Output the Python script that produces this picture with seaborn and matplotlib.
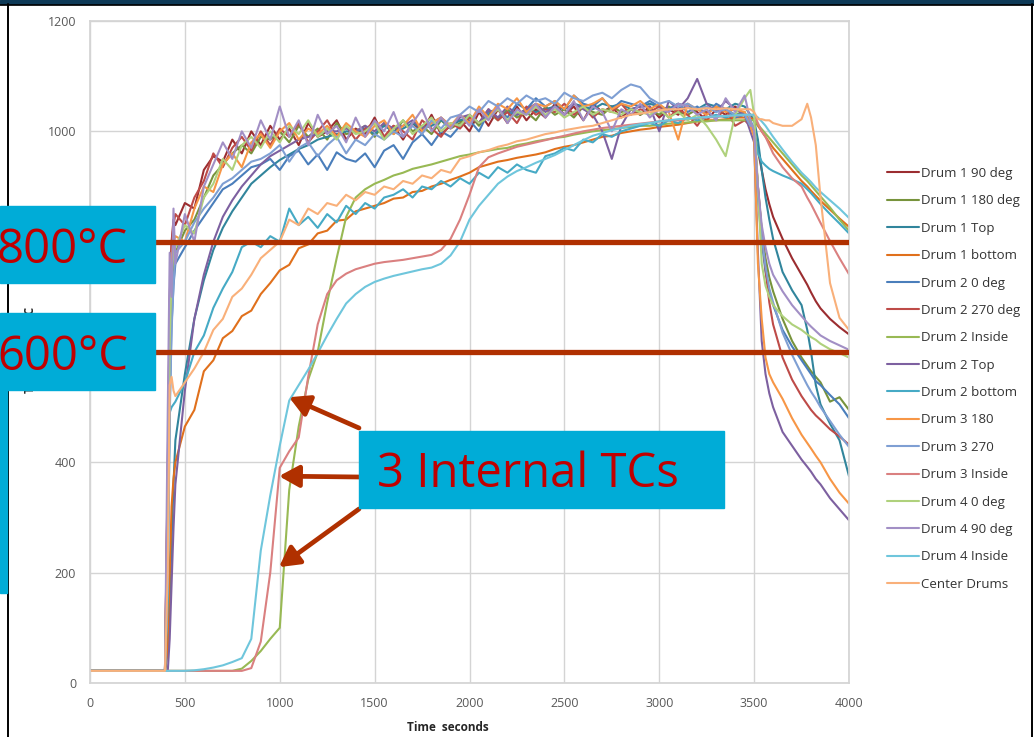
import numpy as np
import pandas as pd
import matplotlib
matplotlib.use("Agg")
import matplotlib.pyplot as plt
from matplotlib.patches import Rectangle
import seaborn as sns

# ── time base: start of test, heating phase (every 50 s), cooling phase ──
START_T = [0, 395, 410, 420, 430, 440]
HEAT_T = list(range(450, 3451, 50))
COOL_T = [3480, 3500, 3520, 3540, 3560, 3580, 3600, 3650, 3700, 3750,
          3780, 3800, 3825, 3850, 3900, 3950, 4000]
TIME = START_T + HEAT_T + COOL_T

NAMES = ["Drum 1 90 deg", "Drum 1 180 deg", "Drum 1 Top", "Drum 1 bottom",
         "Drum 2 0 deg", "Drum 2 270 deg", "Drum 2 Inside", "Drum 2 Top",
         "Drum 2 bottom", "Drum 3 180", "Drum 3 270", "Drum 3 Inside",
         "Drum 4 0 deg", "Drum 4 90 deg", "Drum 4 Inside", "Center Drums"]
COLORS = ["#9b2d30", "#77933c", "#31859c", "#e0701c",
          "#4a7ebb", "#be4b48", "#98b954", "#7d60a0",
          "#46aac5", "#f79646", "#7f9fd3", "#da8080",
          "#afd17c", "#a28fc5", "#6fc6dc", "#f9b07a"]

# ── temperatures (deg C), one list per thermocouple ──
D1_90 = [22, 22, 400, 700, 800, 840,
         830, 870, 860, 930, 955, 945, 985, 960, 1000, 975,
         1010, 985, 1005, 975, 1015, 990, 1000, 1020, 985, 1005,
         995, 1025, 990, 1010, 985, 1015, 1000, 1030, 995, 1010,
         1020, 1000, 1035, 1010, 1040, 1015, 1045, 1020, 1040, 1025,
         1050, 1030, 1045, 1020, 1050, 1035, 1045, 1025, 1040, 1030,
         1045, 1025, 1040, 1030, 1050, 1035, 1020, 1040, 1030, 1045,
         1030,
         1010, 1000, 965, 930, 895, 868, 845, 805, 770, 740, 722, 708, 692, 679, 660, 645, 632]
D1_180 = [22, 22, 350, 600, 720, 760,
          780, 820, 840, 880, 920, 940, 960, 975, 960, 990,
          985, 1000, 980, 1010, 990, 1005, 985, 1015, 995, 1000,
          1010, 990, 1015, 995, 1020, 1000, 1010, 995, 1020, 1005,
          1015, 1030, 1010, 1035, 1020, 1040, 1025, 1035, 1020, 1045,
          1030, 1040, 1025, 1045, 1035, 1030, 1045, 1035, 1040, 1030,
          1040, 1030, 1045, 1035, 1030, 1040, 1035, 1025, 1040, 1030,
          1035,
          1010, 1000, 900, 820, 770, 735, 710, 660, 620, 590, 575, 565, 555, 545, 510, 518, 495]
D1_TOP = [22, 22, 60, 150, 260, 360,
          440, 560, 660, 730, 785, 825, 855, 880, 905, 920,
          935, 948, 958, 968, 975, 985, 990, 995, 1000, 1000,
          1005, 995, 1010, 1000, 1005, 1015, 1005, 1010, 1020, 1010,
          1020, 1025, 1015, 1030, 1025, 1035, 1030, 1040, 1035, 1040,
          1045, 1040, 1050, 1045, 1040, 1050, 1045, 1050, 1040, 1045,
          1050, 1045, 1040, 1050, 1045, 1040, 1050, 1045, 1040, 1050,
          1045,
          1030, 1020, 985, 930, 880, 840, 805, 745, 712, 685, 640, 600, 540, 505, 470, 440, 375]
D1_BOT = [22, 22, 60, 200, 320, 370,
          400, 465, 495, 565, 585, 625, 638, 665, 675, 705,
          725, 748, 758, 788, 795, 815, 820, 838, 840, 855,
          860, 865, 870, 878, 880, 890, 892, 900, 905, 912,
          918, 925, 935, 940, 945, 948, 952, 955, 958, 962,
          968, 972, 975, 980, 985, 990, 992, 997, 1000, 1003,
          1005, 1008, 1010, 1012, 1015, 1018, 1020, 1020, 1022, 1025,
          1025,
          1025, 1020, 1010, 1000, 990, 980, 970, 950, 930, 910, 900, 892, 883, 874, 858, 842, 827]
D2_0 = [22, 22, 250, 500, 650, 720,
        760, 790, 820, 845, 870, 895, 905, 920, 935, 940,
        950, 930, 955, 965, 940, 958, 930, 962, 950, 945,
        960, 935, 965, 975, 950, 980, 995, 975, 1000, 990,
        1010, 1020, 1000, 1035, 1040, 1025, 1050, 1040, 1060, 1045,
        1055, 1040, 1065, 1050, 1045, 1060, 1040, 1055, 1050, 1045,
        1055, 1045, 1040, 1050, 1035, 1045, 1030, 1050, 1040, 1025,
        1030,
        1010, 1000, 880, 800, 745, 710, 685, 640, 610, 585, 570, 560, 547, 540, 522, 505, 480]
D2_270 = [22, 22, 380, 680, 790, 830,
          850, 830, 880, 910, 960, 935, 970, 990, 965, 1000,
          975, 1005, 990, 1015, 980, 1000, 1020, 990, 1010, 985,
          1005, 1015, 990, 1010, 1000, 985, 1020, 1005, 990, 1015,
          1005, 1025, 1015, 1040, 1020, 1035, 1015, 1045, 1030, 1040,
          1035, 1050, 1030, 1045, 1025, 1040, 1035, 1050, 1030, 1040,
          1035, 1045, 1025, 1040, 1030, 1010, 1035, 1025, 1040, 1010,
          1020,
          1010, 1000, 900, 820, 750, 690, 650, 590, 550, 520, 505, 495, 485, 477, 460, 447, 432]
D2_IN = [22, 22, 22, 22, 22, 22,
         22, 22, 22, 22, 22, 22, 22, 26, 40, 58,
         80, 100, 350, 465, 550, 600, 690, 770, 845, 880,
         895, 905, 912, 920, 925, 932, 936, 940, 945, 950,
         955, 958, 962, 965, 968, 970, 975, 978, 982, 985,
         988, 990, 994, 997, 1000, 1002, 1004, 1006, 1008, 1010,
         1010, 1012, 1014, 1015, 1016, 1018, 1018, 1020, 1020, 1020,
         1020,
         1020, 1020, 1012, 1004, 996, 988, 980, 960, 940, 920, 910, 902, 892, 882, 862, 840, 820]
D2_TOP = [22, 22, 22, 80, 180, 280,
          360, 530, 660, 740, 800, 845, 875, 900, 920, 940,
          955, 965, 975, 985, 990, 995, 1000, 1000, 1005, 1000,
          1010, 1000, 1015, 1005, 1010, 1020, 1005, 1015, 1025, 1010,
          1025, 1030, 1015, 1040, 1025, 1045, 1030, 1040, 1050, 1035,
          1045, 1030, 1050, 1040, 1030, 1000, 950, 1010, 1040, 1045,
          1045, 1000, 1055, 1040, 1060, 1095, 1050, 1035, 1055, 1040,
          1030,
          1000, 980, 780, 620, 560, 525, 500, 455, 430, 405, 392, 383, 370, 360, 335, 315, 295]
D2_BOT = [22, 22, 150, 490, 500, 505,
          510, 545, 600, 630, 680, 715, 745, 790, 800, 790,
          810, 800, 860, 830, 845, 825, 850, 835, 865, 850,
          870, 860, 880, 885, 895, 880, 900, 895, 910, 900,
          915, 905, 925, 915, 935, 925, 940, 930, 925, 955,
          960, 970, 965, 985, 980, 995, 990, 1000, 1005, 1010,
          1015, 1010, 1020, 1015, 1025, 1020, 1025, 1030, 1025, 1030,
          1030,
          1020, 1005, 960, 945, 938, 932, 928, 920, 913, 905, 895, 888, 878, 868, 850, 833, 815]
D3_180 = [22, 22, 380, 650, 770, 800,
          810, 800, 860, 900, 890, 940, 960, 935, 980, 995,
          970, 1000, 1015, 985, 1005, 995, 1010, 990, 1015, 1000,
          990, 1010, 1020, 995, 1010, 1030, 1000, 1015, 1025, 1010,
          1030, 1015, 1045, 1025, 1050, 1040, 1060, 1035, 1050, 1045,
          1055, 1040, 1065, 1045, 1050, 1060, 1040, 1050, 1045, 1055,
          1040, 1050, 1035, 985, 1050, 1040, 1030, 1045, 1035, 1040,
          1035,
          1010, 990, 760, 660, 590, 560, 545, 515, 480, 450, 435, 425, 412, 400, 370, 345, 325]
D3_270 = [22, 22, 200, 480, 640, 720,
          780, 800, 835, 860, 880, 905, 915, 930, 945, 950,
          960, 975, 945, 970, 980, 955, 975, 990, 960, 985,
          975, 995, 985, 1000, 990, 1010, 995, 1020, 1005, 1025,
          1030, 1045, 1035, 1055, 1045, 1060, 1050, 1065, 1055, 1060,
          1050, 1070, 1060, 1055, 1065, 1070, 1060, 1075, 1085, 1080,
          1060, 1050, 1055, 1045, 1050, 1040, 1045, 1035, 1040, 1030,
          1030,
          1010, 1010, 890, 810, 755, 715, 690, 635, 595, 560, 540, 528, 515, 500, 475, 450, 428]
D3_IN = [22, 22, 22, 22, 22, 22,
         22, 22, 22, 22, 22, 22, 22, 22, 27, 75,
         200, 390, 420, 445, 555, 650, 705, 730, 742, 750,
         755, 760, 763, 765, 767, 770, 773, 776, 785, 805,
         840, 885, 935, 953, 960, 966, 972, 976, 980, 984,
         988, 992, 996, 1000, 1003, 1006, 1008, 1010, 1012, 1014,
         1016, 1018, 1020, 1020, 1022, 1024, 1025, 1026, 1028, 1028,
         1030,
         1030, 1030, 1015, 1000, 990, 975, 960, 935, 915, 900, 880, 868, 851, 834, 801, 770, 741]
D4_0 = [22, 22, 300, 620, 740, 780,
        790, 830, 815, 880, 905, 950, 930, 975, 990, 970,
        1000, 980, 1010, 995, 1020, 990, 1005, 985, 1010, 995,
        1000, 1015, 985, 1005, 1020, 995, 1010, 1025, 1000, 1015,
        1010, 1030, 1015, 1025, 1040, 1020, 1035, 1030, 1045, 1030,
        1040, 1025, 1035, 1045, 1030, 1040, 1035, 1030, 1040, 1035,
        1030, 1040, 1025, 1035, 1020, 1030, 1010, 985, 955, 1030,
        1060,
        1075, 1030, 900, 760, 720, 700, 685, 665, 650, 640, 632, 627, 622, 615, 605, 598, 590]
D4_90 = [22, 22, 500, 780, 700, 860,
         760, 850, 800, 900, 940, 980, 950, 1000, 970, 1020,
         985, 1045, 990, 1020, 975, 1030, 995, 1010, 980, 1025,
         990, 1020, 1000, 1035, 990, 1015, 1040, 1000, 1025, 1005,
         1030, 1010, 1040, 1020, 1045, 1015, 1040, 1030, 1050, 1025,
         1045, 1030, 1055, 1020, 1045, 1035, 1000, 1040, 1030, 1050,
         1025, 1040, 1035, 1050, 1045, 1030, 1040, 1020, 1060, 1035,
         1065,
         1020, 1000, 900, 830, 790, 760, 740, 710, 685, 665, 653, 646, 638, 630, 620, 612, 604]
D4_IN = [22, 22, 22, 22, 22, 22,
         22, 22, 23, 25, 28, 32, 38, 45, 80, 240,
         340, 430, 512, 540, 568, 598, 630, 660, 688, 705,
         718, 727, 733, 738, 742, 746, 750, 753, 760, 775,
         800, 840, 865, 885, 905, 918, 928, 935, 943, 950,
         957, 966, 975, 984, 992, 997, 1002, 1006, 1010, 1013,
         1015, 1018, 1020, 1022, 1023, 1025, 1026, 1027, 1028, 1029,
         1030,
         1030, 1030, 1025, 1018, 1010, 1000, 990, 967, 945, 925, 915, 908, 898, 890, 875, 860, 843]
CENTER = [22, 22, 200, 540, 555, 530,
          520, 545, 570, 600, 640, 660, 700, 715, 740, 770,
          785, 800, 840, 830, 860, 850, 870, 865, 885, 875,
          890, 885, 900, 895, 910, 905, 920, 915, 930, 925,
          950, 955, 962, 966, 972, 976, 982, 985, 990, 995,
          998, 1002, 1005, 1008, 1010, 1015, 1020, 1025, 1030, 1032,
          1035, 1038, 1040, 1040, 1042, 1040, 1042, 1040, 1042, 1040,
          1040,
          1040, 1035, 1022, 1022, 1020, 1020, 1015, 1010, 1010, 1022, 1050, 1025, 975, 880, 725, 662, 640]

SERIES = [D1_90, D1_180, D1_TOP, D1_BOT, D2_0, D2_270, D2_IN, D2_TOP,
          D2_BOT, D3_180, D3_270, D3_IN, D4_0, D4_90, D4_IN, CENTER]

# annotation targets (data coords) for the 3 internal TC arrows
ARROW_TIPS = [(1049, 518), (996, 375), (996, 210)]

BOX_BLUE = "#00acd7"
TXT_RED = "#c00000"
RUST = "#b03000"

frames = []
for name, vals in zip(NAMES, SERIES):
    assert len(vals) == len(TIME), (name, len(vals))
    frames.append(pd.DataFrame({"time": TIME, "temp": vals, "series": name}))
df = pd.concat(frames, ignore_index=True)

sns.set_theme(style="whitegrid")
plt.rcParams["font.family"] = ["Open Sans", "DejaVu Sans"]

W, H = 1034, 737
fig = plt.figure(figsize=(W / 100, H / 100), dpi=100)
ax = fig.add_axes([90 / W, (H - 683) / H, 759 / W, 662 / H])

sns.lineplot(data=df, x="time", y="temp", hue="series", hue_order=NAMES,
             palette=COLORS, estimator=None, sort=False, linewidth=1.5, ax=ax)

ax.set_xlim(0, 4000)
ax.set_ylim(0, 1200)
ax.set_xticks(range(0, 4001, 500))
ax.set_yticks(range(0, 1201, 200))
ax.grid(True, color="#d4d4d4", linewidth=1.0)
for s in ax.spines.values():
    s.set_color("#d4d4d4")
ax.tick_params(length=4, color="#c8c8c8", labelcolor="#595959",
               labelsize=9, pad=6)
ax.set_xlabel("Time  seconds", fontsize=8.5, fontweight="bold", color="#262626")
ax.xaxis.set_label_coords((448 - 90) / 759, -0.057)
ax.set_ylabel("Temperature C", fontsize=8.5, fontweight="bold", color="#262626")
ax.yaxis.set_label_coords(-0.07, 0.503)

handles, labels = ax.get_legend_handles_labels()
ax.legend(handles, labels, loc="upper left",
          bbox_to_anchor=(887 / W, 1 - 167 / H), bbox_transform=fig.transFigure,
          frameon=False, fontsize=9.5, handlelength=2.4, handletextpad=0.15,
          labelspacing=1.09, borderpad=0, borderaxespad=0, labelcolor="#333333")

# threshold lines
ax.axhline(800, color=RUST, lw=3.8, zorder=5)
ax.axhline(600, color=RUST, lw=3.8, zorder=5)

# ── overlay in pixel coordinates (slide callouts) ──
ov = fig.add_axes([0, 0, 1, 1], zorder=10)
ov.set_xlim(0, W)
ov.set_ylim(H, 0)
ov.axis("off")
ov.patch.set_alpha(0)

ov.add_patch(Rectangle((0, 0), W, 4, color="#0e3a57", zorder=0.5))
ov.plot([0, W], [4.5, 4.5], color="black", lw=1.2, zorder=0.6)
ov.plot([7.5, 7.5], [4, H], color="black", lw=1.4, zorder=0.6)
ov.plot([1032, 1032], [4, H], color="black", lw=1.4, zorder=0.6)

ov.add_patch(Rectangle((0, 206), 155, 77, color=BOX_BLUE, zorder=1))
ov.add_patch(Rectangle((0, 313), 155, 77, color=BOX_BLUE, zorder=1))
ov.add_patch(Rectangle((0, 390), 7, 203, color=BOX_BLUE, zorder=1))
ov.add_patch(Rectangle((359, 431), 365, 77, color=BOX_BLUE, zorder=1))

ov.text(-3, 263, "800°C", fontsize=34, color=TXT_RED, va="baseline", ha="left", zorder=2)
ov.text(-3, 370, "600°C", fontsize=34, color=TXT_RED, va="baseline", ha="left", zorder=2)
ov.text(377, 487, "3 Internal TCs", fontsize=34, color=TXT_RED, va="baseline", ha="left", zorder=2)

tails = [(359, 428), (359, 477), (359, 509)]
for tail, tip in zip(tails, ARROW_TIPS):
    ax.annotate("", xy=tip, xytext=tail, textcoords=ov.transData,
                annotation_clip=False, zorder=6,
                arrowprops=dict(arrowstyle="-|>,head_length=1.0,head_width=0.55",
                                color=RUST, lw=3.4, shrinkA=0, shrinkB=0,
                                mutation_scale=12))

fig.savefig("out.png", dpi=100)
